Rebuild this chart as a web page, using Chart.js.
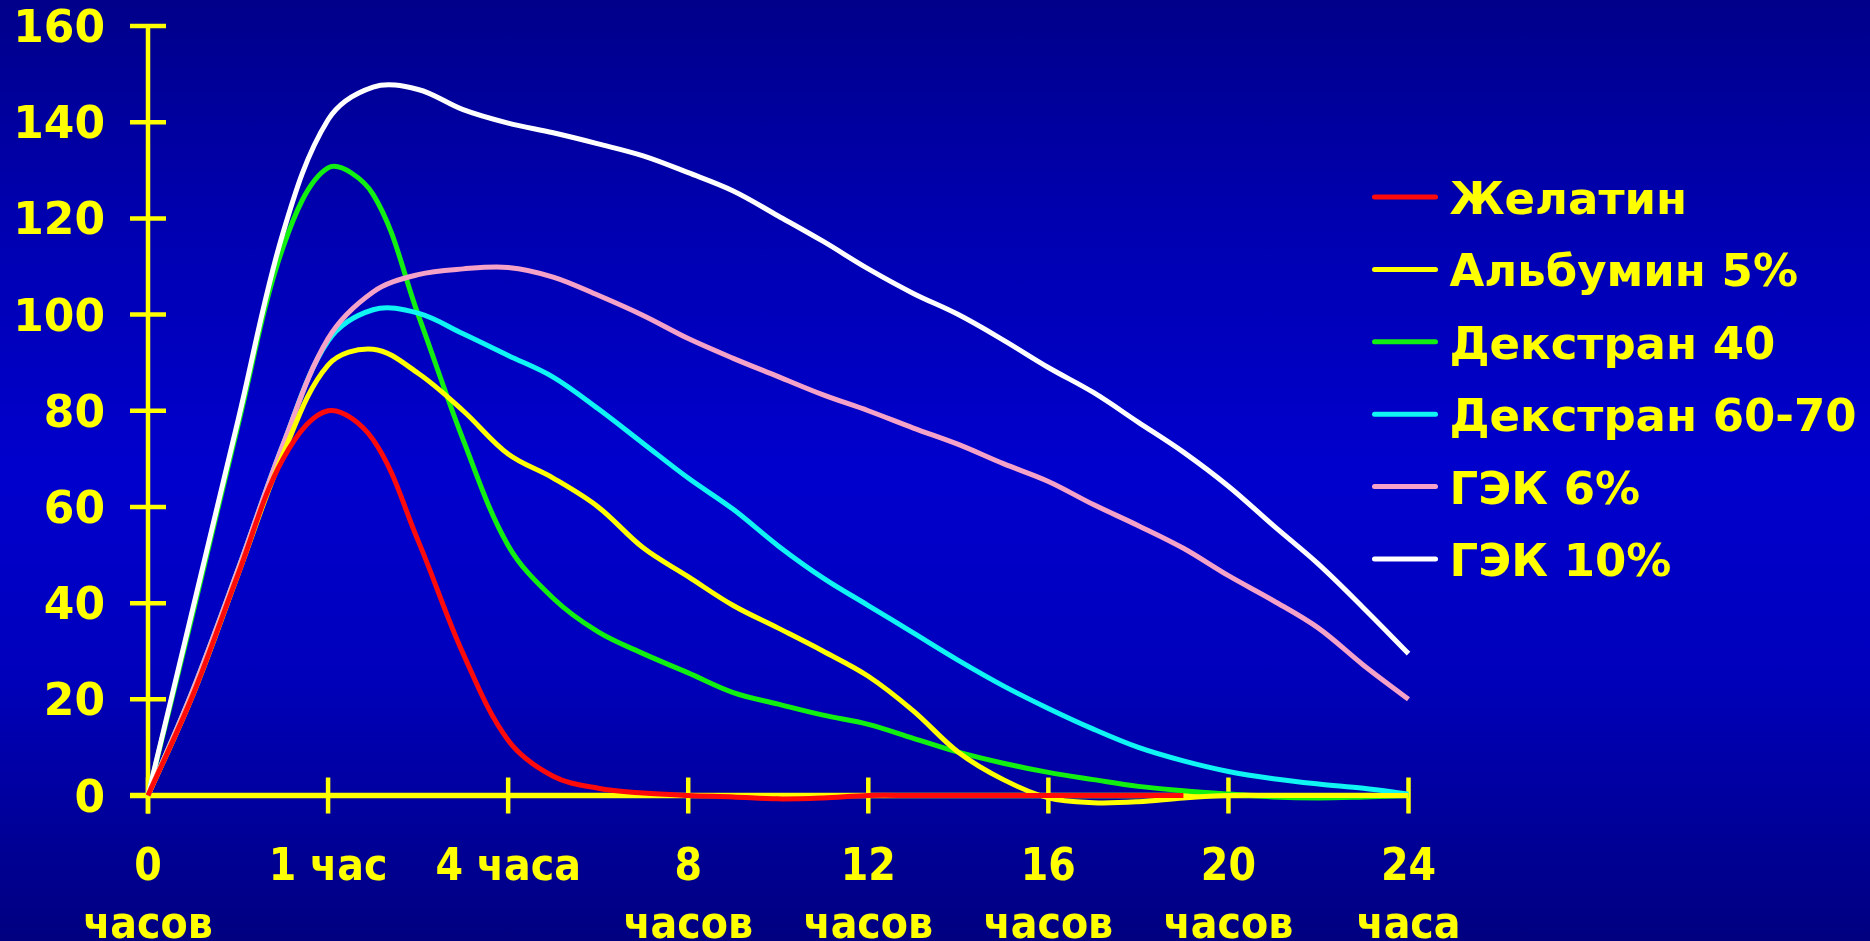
<!DOCTYPE html>
<html lang="ru">
<head>
<meta charset="utf-8">
<title>Объёмный эффект растворов</title>
<script src="https://cdn.jsdelivr.net/npm/chart.js@4.4.1/dist/chart.umd.min.js"></script>
<style>
  html, body { margin: 0; padding: 0; overflow: hidden; }
  body {
    width: 1870px; height: 941px;
    background: linear-gradient(to bottom, rgb(0,0,138) 0%, rgb(0,0,178) 25%, rgb(0,0,205) 50%, rgb(0,0,190) 70%, rgb(0,0,128) 100%);
  }
  #wrap { position: absolute; left: 0; top: 0; width: 1870px; height: 941px; }
</style>
</head>
<body>
<div id="wrap"><canvas id="chart" width="1870" height="941"></canvas></div>
<script>
// Time points on the horizontal axis (equal spacing, one slot per label)
const tickTop    = ["0", "1 час", "4 часа", "8", "12", "16", "20", "24"];
const tickBottom = ["часов", "", "", "часов", "часов", "часов", "часов", "часа"];

// Sample positions, in units of the time slots above
const samplePos = [0, 0.25, 0.5, 0.75, 1, 1.25, 1.5, 1.75, 2, 2.25, 2.5, 2.75, 3, 3.25, 3.5,
                   3.75, 4, 4.25, 4.5, 4.75, 5, 5.25, 5.5, 5.75, 6, 6.25, 6.5, 6.75, 7];

// Volume effect, % of infused volume
const gelatin   = [0, 21, 46, 70, 80, 74, 53, 29.5, 11.5, 4, 1.5, 0.5, 0, -0.3, -0.7, -0.5, 0, 0, 0, 0, 0, 0, 0, 0, null, null, null, null, null];
const albumin5  = [0, 21, 46, 71, 89.5, 92.8, 87.8, 80, 71, 66, 60, 51.5, 45.5, 39.5, 34.8, 30, 24.8, 17.6, 9, 3.3, -0.5, -1.5, -1.3, -0.5, 0, 0, 0, 0, 0];
const dextran40 = [0, 38, 77, 114, 130.5, 125, 100, 74, 52, 41, 34, 29.5, 25.5, 21.4, 19, 16.7, 14.8, 11.9, 9, 6.7, 4.8, 3.3, 1.9, 1, 0.3, -0.3, -0.5, -0.3, 0];
const dextran60 = [0, 22, 47, 73, 94.5, 101, 100.3, 96, 91.5, 87, 80.4, 73.2, 66, 59.5, 51.9, 45.2, 39.5, 33.8, 28.1, 22.8, 18.1, 13.8, 10, 7.2, 5, 3.5, 2.4, 1.5, 0.3];
const hes6      = [0, 22, 47, 73, 95, 104.7, 108.3, 109.5, 109.8, 107.8, 104, 99.8, 95, 90.9, 87.1, 83.3, 80, 76.4, 73, 69, 65.3, 60.5, 56.1, 51.4, 45.7, 40.5, 34.8, 27.1, 20];
const hes10     = [0, 39, 78, 117, 140.5, 147.3, 146.8, 142.6, 139.8, 137.8, 135.5, 133, 129.5, 125.7, 120.5, 115.2, 109.5, 104.4, 100, 94.7, 89, 83.8, 77.6, 71.4, 64.3, 56.1, 48.1, 39, 29.5];

const seriesNames  = ["Желатин", "Альбумин 5%", "Декстран 40", "Декстран 60-70", "ГЭК 6%", "ГЭК 10%"];
const seriesValues = [gelatin, albumin5, dextran40, dextran60, hes6, hes10];
const seriesColors = ["#ff0a0a", "#ffff00", "#12f012", "#10f4f4", "#f4a2c8", "#ffffff"];
const drawOrder    = [0, 1, 5, 4, 2, 3];

const yMin = 0, yMax = 160, yStep = 20;

const AXIS = "#ffff00";
const FONT = "'DejaVu Sans', Verdana, sans-serif";

const datasets = seriesNames.map((name, i) => ({
  label: name,
  data: samplePos.map((x, k) => ({ x: x, y: seriesValues[i][k] })),
  borderColor: seriesColors[i],
  backgroundColor: seriesColors[i],
  borderWidth: 5,
  pointRadius: 0,
  tension: 0.35,
  spanGaps: false,
  clip: false,
  order: drawOrder[i]
}));

// Axis lines with ticks crossing both sides, plus value labels
const axesPlugin = {
  id: "crossAxes",
  beforeDatasetsDraw(chart) {
    const { ctx, scales: { x, y } } = chart;
    const x0 = x.getPixelForValue(0);
    const y0 = y.getPixelForValue(0);
    const half = 18;
    ctx.save();
    ctx.strokeStyle = AXIS;
    ctx.lineCap = "butt";
    ctx.lineWidth = 4.5;
    ctx.beginPath();
    ctx.moveTo(x0, y.getPixelForValue(yMax));
    ctx.lineTo(x0, y0 + half);
    ctx.stroke();
    ctx.fillStyle = AXIS;
    ctx.font = "bold 44px " + FONT;
    ctx.textAlign = "right";
    ctx.textBaseline = "alphabetic";
    for (let v = yMin; v <= yMax; v += yStep) {
      const py = y.getPixelForValue(v);
      ctx.beginPath();
      ctx.moveTo(x0 - half, py);
      ctx.lineTo(x0 + half, py);
      ctx.stroke();
      ctx.fillText(String(v), x0 - 43, py + 16);
    }
    ctx.lineWidth = 5.5;
    ctx.beginPath();
    ctx.moveTo(x0 - half, y0);
    ctx.lineTo(x.getPixelForValue(tickTop.length - 1), y0);
    ctx.stroke();
    ctx.lineWidth = 4.5;
    for (let i = 0; i < tickTop.length; i++) {
      const px = x.getPixelForValue(i);
      ctx.beginPath();
      ctx.moveTo(px, y0 - half);
      ctx.lineTo(px, y0 + half);
      ctx.stroke();
    }
    ctx.restore();
  }
};

// Two-line time labels in a slightly narrowed bold face
const timeLabelsPlugin = {
  id: "timeLabels",
  afterDraw(chart) {
    const { ctx, scales: { x, y } } = chart;
    const y0 = y.getPixelForValue(0);
    const lines = [[tickTop, 84.5], [tickBottom, 142.5]];
    ctx.save();
    ctx.fillStyle = AXIS;
    ctx.textAlign = "center";
    ctx.textBaseline = "alphabetic";
    ctx.font = "bold 44px " + FONT;
    for (let i = 0; i < tickTop.length; i++) {
      const px = x.getPixelForValue(i);
      lines.forEach(([texts, dy]) => {
        if (!texts[i]) return;
        ctx.save();
        ctx.translate(px, y0 + dy);
        ctx.scale(0.9, 1);
        ctx.fillText(texts[i], 0, 0);
        ctx.restore();
      });
    }
    ctx.restore();
  }
};

// Legend to the right of the plot
const legendPlugin = {
  id: "sideLegend",
  afterDraw(chart) {
    const { ctx, chartArea } = chart;
    ctx.save();
    ctx.font = "bold 45px " + FONT;
    ctx.textAlign = "left";
    ctx.textBaseline = "alphabetic";
    chart.data.datasets.forEach((ds, i) => {
      const ry = chartArea.top + 171 + i * 72.4;
      ctx.strokeStyle = ds.borderColor;
      ctx.lineWidth = 5;
      ctx.lineCap = "round";
      ctx.beginPath();
      ctx.moveTo(chartArea.right - 34, ry);
      ctx.lineTo(chartArea.right + 27, ry);
      ctx.stroke();
      ctx.fillStyle = AXIS;
      ctx.fillText(ds.label, chartArea.right + 41, ry + 17);
    });
    ctx.restore();
  }
};

new Chart(document.getElementById("chart"), {
  type: "line",
  data: { datasets: datasets },
  plugins: [axesPlugin, timeLabelsPlugin, legendPlugin],
  options: {
    responsive: false,
    devicePixelRatio: 1,
    animation: false,
    events: [],
    layout: { padding: { top: 26, right: 461.5, left: 148, bottom: 145.5 } },
    plugins: { legend: { display: false }, tooltip: { enabled: false }, title: { display: false } },
    scales: {
      x: { type: "linear", display: false, min: 0, max: tickTop.length - 1 },
      y: { type: "linear", display: false, min: yMin, max: yMax }
    }
  }
});
</script>
</body>
</html>
